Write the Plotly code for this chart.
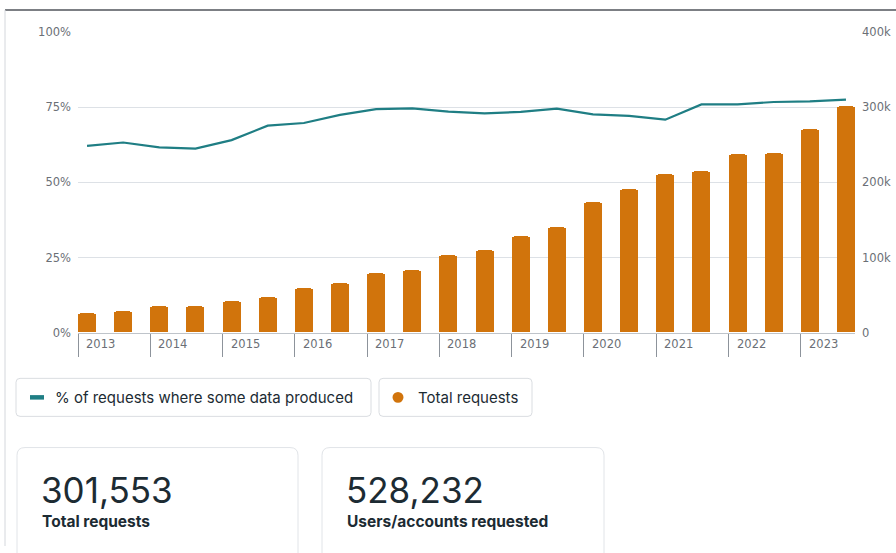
import plotly.graph_objects as go

# ---------------- data ----------------
years = [2013, 2014, 2015, 2016, 2017, 2018, 2019, 2020, 2021, 2022, 2023]
periods = [f"{h} {y}" for y in years for h in ("Jan-Jun", "Jul-Dec")]
pct_data_produced = [62.2, 63.3, 61.7, 61.3, 64.1, 68.9, 69.8, 72.5, 74.4, 74.7, 73.6,
                     73.0, 73.5, 74.6, 72.7, 72.2, 70.9, 76.0, 76.0, 76.8, 77.0, 77.6]
total_requests = [25500, 28000, 35500, 35000, 42000, 47000, 59300, 65000, 78800, 82300, 103400,
                  110200, 127700, 140700, 173200, 190500, 210800, 214300, 236800, 239000, 271400, 301553]
pct_ticks = [0, 25, 50, 75, 100]
pct_labels = ["0%", "25%", "50%", "75%", "100%"]
count_ticks = [0, 100000, 200000, 300000, 400000]
count_labels = ["0", "100k", "200k", "300k", "400k"]
legend_labels = ["% of requests where some data produced", "Total requests"]
stat_values = ["301,553", "528,232"]
stat_labels = ["Total requests", "Users/accounts requested"]

# ---------------- style ----------------
W, H = 896, 553
TEAL = "#1f7e84"
ORANGE = "#d1740c"
TXT = "#1c2b33"
AXTXT = "#6b6f76"
GRID = "#dde1e6"
AXFONT = "DejaVu Sans"
UIFONT = "Inter"

def X(px):
    return px / W

def Y(py):
    return 1 - py / H

x_idx = list(range(len(periods)))

fig = go.Figure()
fig.add_trace(go.Bar(
    x=x_idx, y=total_requests, width=0.5, name=legend_labels[1],
    marker=dict(color=ORANGE, cornerradius=3, line=dict(width=0)),
    hovertext=periods, yaxis="y"))
fig.add_trace(go.Scatter(
    x=x_idx, y=pct_data_produced, mode="lines", name=legend_labels[0],
    line=dict(color=TEAL, width=2.2), hovertext=periods, yaxis="y2"))

year_ticks = [2 * i - 0.25 for i in range(len(years))]

shapes = []
annotations = []

# page frame lines
shapes.append(dict(type="line", xref="paper", yref="paper", x0=X(5), x1=X(896), y0=Y(3), y1=Y(3),
                   line=dict(color="#50545b", width=1.5)))
shapes.append(dict(type="line", xref="paper", yref="paper", x0=X(5), x1=X(5), y0=Y(3), y1=Y(553),
                   line=dict(color="#d4d7dc", width=1)))

def rrect(x0, y0, x1, y1, r):
    return (f"M {X(x0+r)},{Y(y0)} L {X(x1-r)},{Y(y0)} Q {X(x1)},{Y(y0)} {X(x1)},{Y(y0+r)} "
            f"L {X(x1)},{Y(y1-r)} Q {X(x1)},{Y(y1)} {X(x1-r)},{Y(y1)} "
            f"L {X(x0+r)},{Y(y1)} Q {X(x0)},{Y(y1)} {X(x0)},{Y(y1-r)} "
            f"L {X(x0)},{Y(y0+r)} Q {X(x0)},{Y(y0)} {X(x0+r)},{Y(y0)} Z")

# legend boxes
for (x0, x1) in [(16, 371), (379, 532)]:
    shapes.append(dict(type="path", xref="paper", yref="paper", path=rrect(x0, 381, x1, 420, 4),
                       line=dict(color="#dadde1", width=1), fillcolor="white"))
shapes.append(dict(type="line", xref="paper", yref="paper", x0=X(30), x1=X(44), y0=Y(400.5), y1=Y(400.5),
                   line=dict(color=TEAL, width=4.5)))
shapes.append(dict(type="circle", xref="paper", yref="paper", x0=X(392.5), x1=X(403.5), y0=Y(395), y1=Y(406),
                   line=dict(width=0), fillcolor=ORANGE))
annotations.append(dict(text=legend_labels[0], xref="paper", yref="paper", x=X(53), y=Y(401),
                        xanchor="left", yanchor="middle", showarrow=False,
                        font=dict(family=UIFONT, size=15, color=TXT)))
annotations.append(dict(text=legend_labels[1], xref="paper", yref="paper", x=X(416), y=Y(401),
                        xanchor="left", yanchor="middle", showarrow=False,
                        font=dict(family=UIFONT, size=15, color=TXT)))

# stat cards
for (x0, x1), val, lab in zip([(17, 298), (322, 604)], stat_values, stat_labels):
    shapes.append(dict(type="path", xref="paper", yref="paper", path=rrect(x0, 452, x1, 580, 8),
                       line=dict(color="#e1e4e8", width=1), fillcolor="white"))
    annotations.append(dict(text=val, xref="paper", yref="paper", x=X(x0 + 22), y=Y(496),
                            xanchor="left", yanchor="middle", showarrow=False,
                            font=dict(family=UIFONT, size=35, color=TXT)))
    annotations.append(dict(text=f"<b>{lab}</b>", xref="paper", yref="paper", x=X(x0 + 23), y=Y(528),
                            xanchor="left", yanchor="middle", showarrow=False,
                            font=dict(family=UIFONT, size=15.5, color=TXT)))

# year labels
for xv, yr in zip(year_ticks, years):
    annotations.append(dict(text=str(yr), x=xv, xref="x", y=Y(346), yref="paper",
                            xanchor="left", yanchor="middle", xshift=6, showarrow=False,
                            font=dict(family=AXFONT, size=11.5, color=AXTXT)))

fig.update_layout(
    width=W, height=H, margin=dict(l=0, r=0, t=0, b=0),
    paper_bgcolor="white", plot_bgcolor="white",
    showlegend=False, bargap=0,
    xaxis=dict(domain=[X(78), X(855)], range=[-0.25, 21.25], tickmode="array",
               tickvals=year_ticks, ticks="outside", ticklen=23, tickwidth=1, tickcolor="#8d939b",
               showticklabels=False, showline=True, linecolor="#bfc4ca", linewidth=1,
               showgrid=False, zeroline=False, fixedrange=True),
    yaxis=dict(domain=[Y(334), Y(26)], range=[0, 400000], side="right",
               tickmode="array", tickvals=count_ticks, ticktext=count_labels,
               showgrid=True, gridcolor=GRID, gridwidth=1, zeroline=False,
               ticks="", ticklabelstandoff=6,
               tickfont=dict(family=AXFONT, size=11.5, color=AXTXT)),
    yaxis2=dict(overlaying="y", side="left", range=[0, 100],
                tickmode="array", tickvals=pct_ticks, ticktext=pct_labels,
                showgrid=False, zeroline=False, ticks="", ticklabelstandoff=6,
                tickfont=dict(family=AXFONT, size=11.5, color=AXTXT)),
    shapes=shapes, annotations=annotations,
)

fig.write_html("out.html")
